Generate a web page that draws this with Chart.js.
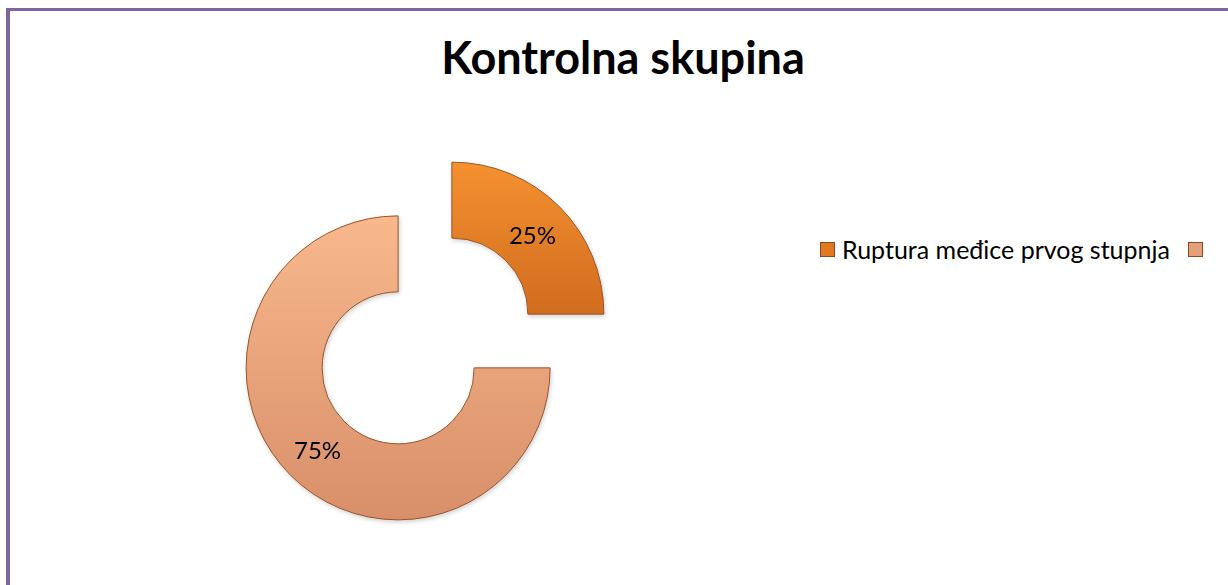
<!DOCTYPE html>
<html>
<head>
<meta charset="utf-8">
<script src="https://cdn.jsdelivr.net/npm/chart.js@4/dist/chart.umd.min.js"></script>
<style>
  html, body { margin: 0; padding: 0; width: 1228px; height: 585px; overflow: hidden; background: #fff; }
  #frame { position: absolute; left: 6px; top: 8px; width: 1400px; height: 800px;
           border-left: 4px solid #8064A2; border-top: 3px solid #8064A2; }
  #title { position: absolute; left: 0; width: 1246px; top: 30px; text-align: center;
           font: bold 45px Lato, sans-serif; color: #000; }
  #chartBox { position: absolute; left: 215px; top: 131px; width: 420px; height: 420px; }
  #pieChart { filter: drop-shadow(1px 2px 2px rgba(0,0,0,0.18)); }
  #legend { position: absolute; left: 820px; top: 234px; font: 25px Lato, sans-serif; color: #000;
            display: flex; align-items: center; white-space: nowrap; }
  #legend .item { display: flex; align-items: center; margin-right: 18px; }
  #legend .box { width: 13px; height: 13px; margin-right: 7px; border: 1px solid #8a4a1e; }
</style>
</head>
<body>
<div id="frame"></div>
<div id="title">Kontrolna skupina</div>
<div id="chartBox"><canvas id="pieChart" width="420" height="420"></canvas></div>
<div id="legend"></div>
<script>
// podaci
const labels = ['Ruptura međice prvog stupnja', ''];
const values = [25, 75];
const pctLabels = ['25%', '75%'];
const topColors = ['#F5912F', '#F8B88C'];
const bottomColors = ['#D06C1E', '#D88F6A'];
const legendColors = ['#E0791F', '#E3A07A'];

const ctx = document.getElementById('pieChart').getContext('2d');
const R = 152, OFF = 38;

// gradijent za svaki dio (od vrha do dna)
const sliceFill = (c) => {
    const area = c.chart.chartArea;
    if (!area) return topColors[c.dataIndex];
    const cy = (area.top + area.bottom) / 2;
    const d = OFF / Math.SQRT2;
    let y0, y1;
    if (c.dataIndex === 0) { y0 = cy - d - R; y1 = cy - d; }
    else { y0 = cy + d - R; y1 = cy + d + R; }
    const g = c.chart.ctx.createLinearGradient(0, y0, 0, y1);
    g.addColorStop(0, topColors[c.dataIndex]);
    g.addColorStop(1, bottomColors[c.dataIndex]);
    return g;
};

// razmicanje dijelova (kao "explode" u Excelu), bez povecanja radijusa
const explodePlugin = {
    id: 'explode',
    afterDatasetUpdate(chart, args) {
        chart.getDatasetMeta(args.index).data.forEach(arc => {
            const a = (arc.startAngle + arc.endAngle) / 2;
            arc.x += Math.cos(a) * OFF;
            arc.y += Math.sin(a) * OFF;
        });
    }
};

// postotci na sredini svakog dijela
const pctPlugin = {
    id: 'pctLabels',
    afterDatasetsDraw(chart) {
        const c = chart.ctx;
        chart.getDatasetMeta(0).data.forEach((arc, i) => {
            const a = (arc.startAngle + arc.endAngle) / 2;
            const r = (arc.innerRadius + arc.outerRadius) / 2;
            c.save();
            c.font = '24px Lato, sans-serif';
            c.fillStyle = '#000';
            c.textAlign = 'center';
            c.textBaseline = 'middle';
            c.fillText(pctLabels[i], arc.x + Math.cos(a) * r, arc.y + Math.sin(a) * r + 3);
            c.restore();
        });
    }
};

new Chart(ctx, {
    type: 'doughnut',
    data: {
        labels: labels,
        datasets: [{
            data: values,
            backgroundColor: sliceFill,
            borderColor: '#9A5426',
            borderWidth: 1,
            hoverOffset: 0
        }]
    },
    options: {
        responsive: false,
        animation: false,
        radius: R,
        cutout: '50%',
        plugins: { legend: { display: false }, tooltip: { enabled: false } }
    },
    plugins: [explodePlugin, pctPlugin]
});

// legenda
const legend = document.getElementById('legend');
labels.forEach((l, i) => {
    legend.innerHTML += `<span class="item"><span class="box" style="background:${legendColors[i]}"></span>${l}</span>`;
});
</script>
</body>
</html>
